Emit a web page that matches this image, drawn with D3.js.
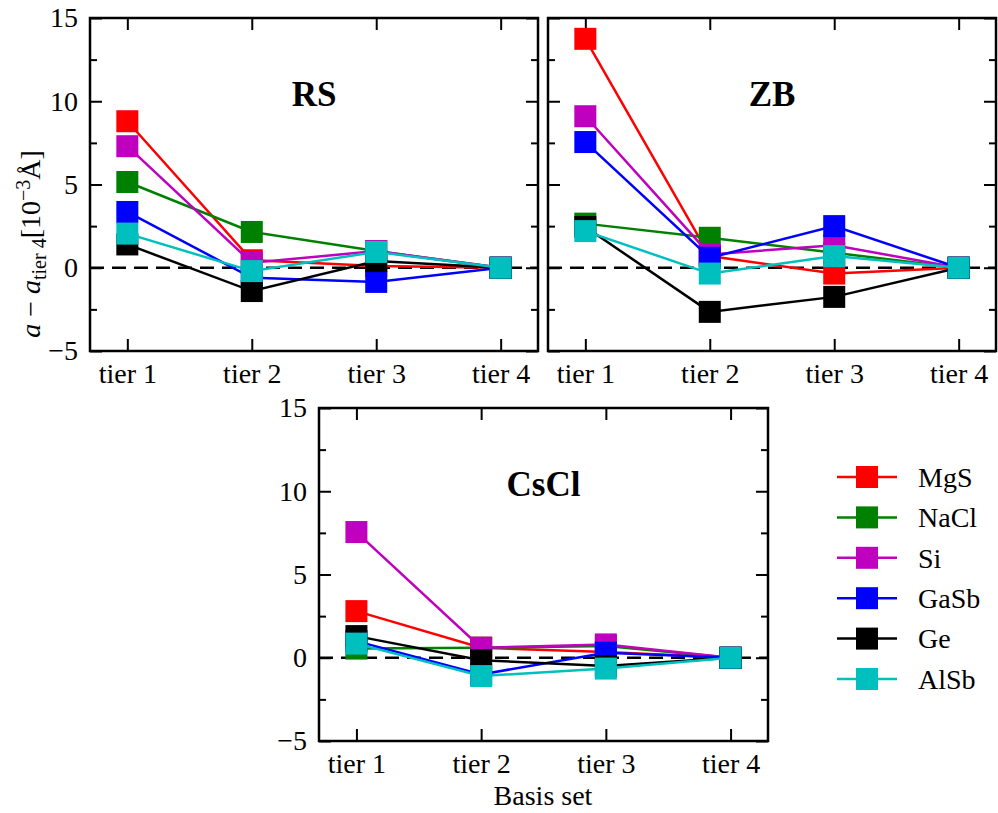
<!DOCTYPE html>
<html>
<head>
<meta charset="utf-8">
<script src="https://cdn.jsdelivr.net/npm/d3@7"></script>
</head>
<body style="margin:0">
<div id="chart"></div>
<script>
// data, one row per material, one column per tier
const tiers = ["tier 1", "tier 2", "tier 3", "tier 4"];
const materials = ["MgS", "NaCl", "Si", "GaSb", "Ge", "AlSb"];
const colors = ["#ff0000", "#008000", "#bf00bf", "#0000ff", "#000000", "#00bfbf"];
const yTicks = [-5, 0, 5, 10, 15];
const yMinorTicks = [-2.5, 2.5, 7.5, 12.5];

const rsValues = [
  [8.8, 0.45, 0.1, 0],
  [5.15, 2.15, 1.0, 0],
  [7.3, 0.3, 1.0, 0],
  [3.35, -0.6, -0.85, 0],
  [1.4, -1.4, 0.4, 0],
  [2.05, -0.2, 0.95, 0]
];
const zbValues = [
  [13.75, 0.7, -0.35, 0],
  [2.65, 1.8, 0.9, 0],
  [9.1, 0.8, 1.35, 0],
  [7.55, 0.6, 2.5, 0],
  [2.45, -2.65, -1.75, 0],
  [2.2, -0.35, 0.7, 0]
];
const csclValues = [
  [2.8, 0.6, 0.35, 0],
  [0.55, 0.6, 0.7, 0],
  [7.55, 0.6, 0.8, 0],
  [1.0, -1.0, 0.3, 0],
  [1.3, -0.15, -0.5, 0],
  [0.85, -1.1, -0.65, 0]
];

const fontName = "Liberation Serif";
const fontSize = 28;
const svg = d3.select("#chart").append("svg")
  .attr("width", 998)
  .attr("height", 813);

function drawPanel(box, title, values, showYLabels) {
  const x = d3.scaleLinear().domain([0.7, 4.3]).range([box.left, box.right]);
  const y = d3.scaleLinear().domain([-5, 15]).range([box.bottom, box.top]);
  const g = svg.append("g");

  // ticks, all pointing inward
  const left = g.append("g").attr("transform", "translate(" + box.left + ",0)")
    .call(d3.axisLeft(y).tickValues(yTicks).tickSize(-12).tickPadding(12).tickFormat(d3.format("d")));
  if (!showYLabels) left.selectAll("text").remove();
  g.append("g").attr("transform", "translate(" + box.left + ",0)")
    .call(d3.axisLeft(y).tickValues(yMinorTicks).tickSize(-7).tickFormat(""));
  g.append("g").attr("transform", "translate(" + box.right + ",0)")
    .call(d3.axisRight(y).tickValues(yTicks).tickSize(-12).tickFormat(""));
  g.append("g").attr("transform", "translate(" + box.right + ",0)")
    .call(d3.axisRight(y).tickValues(yMinorTicks).tickSize(-7).tickFormat(""));
  g.append("g").attr("transform", "translate(0," + box.top + ")")
    .call(d3.axisTop(x).tickValues([1, 2, 3, 4]).tickSize(-12).tickFormat(""));
  g.append("g").attr("transform", "translate(0," + box.bottom + ")")
    .call(d3.axisBottom(x).tickValues([1, 2, 3, 4]).tickSize(-12).tickPadding(12)
      .tickFormat((d) => tiers[d - 1]))
    .selectAll("text").attr("dy", "0.72em");
  g.selectAll(".domain").remove();
  g.selectAll(".tick line").attr("stroke", "#000").attr("stroke-width", 2);
  g.selectAll(".tick text")
    .attr("font-family", fontName)
    .attr("font-size", fontSize)
    .attr("fill", "#000");

  // zero reference
  g.append("line")
    .attr("x1", box.left).attr("x2", box.right)
    .attr("y1", y(0)).attr("y2", y(0))
    .attr("stroke", "#000").attr("stroke-width", 2.5)
    .attr("stroke-dasharray", "14,8");

  const line = d3.line().x((d, i) => x(i + 1)).y((d) => y(d));
  values.forEach((row, k) => {
    g.append("path")
      .datum(row)
      .attr("fill", "none")
      .attr("stroke", colors[k])
      .attr("stroke-width", 2.5)
      .attr("d", line);
    g.selectAll(null)
      .data(row)
      .enter()
      .append("rect")
      .attr("x", (d, i) => x(i + 1) - 11)
      .attr("y", (d) => y(d) - 11)
      .attr("width", 22)
      .attr("height", 22)
      .attr("fill", colors[k]);
  });

  g.append("rect")
    .attr("x", box.left).attr("y", box.top)
    .attr("width", box.right - box.left).attr("height", box.bottom - box.top)
    .attr("fill", "none").attr("stroke", "#000").attr("stroke-width", 2.5);

  g.append("text")
    .attr("x", (box.left + box.right) / 2)
    .attr("y", box.top + 88)
    .attr("text-anchor", "middle")
    .attr("font-family", fontName)
    .attr("font-size", 35)
    .attr("font-weight", "bold")
    .text(title);
}

drawPanel({ left: 90, right: 538, top: 18, bottom: 351 }, "RS", rsValues, true);
drawPanel({ left: 548, right: 996, top: 18, bottom: 351 }, "ZB", zbValues, false);
drawPanel({ left: 319, right: 768, top: 408, bottom: 741 }, "CsCl", csclValues, true);

// x axis label
svg.append("text")
  .attr("x", 543)
  .attr("y", 805)
  .attr("text-anchor", "middle")
  .attr("font-family", fontName)
  .attr("font-size", fontSize)
  .text("Basis set");

// y axis label
const ylab = svg.append("text")
  .attr("transform", "translate(40,244) rotate(-90)")
  .attr("text-anchor", "middle")
  .attr("font-family", fontName)
  .attr("font-size", fontSize);
ylab.append("tspan").attr("font-style", "italic").text("a");
ylab.append("tspan").text(" \u2212 ");
ylab.append("tspan").attr("font-style", "italic").text("a");
ylab.append("tspan").attr("dy", 6).attr("font-size", 20).text("tier 4");
ylab.append("tspan").attr("dy", -6).text("[10");
ylab.append("tspan").attr("dy", -10).attr("font-size", 20).text("\u22123");
ylab.append("tspan").attr("dy", 10).text("\u00c5]");

// legend
const legend = svg.append("g");
materials.forEach((m, i) => {
  const ly = 477 + i * 40.4;
  legend.append("line")
    .attr("x1", 837).attr("x2", 897)
    .attr("y1", ly).attr("y2", ly)
    .attr("stroke", colors[i]).attr("stroke-width", 2.5);
  legend.append("rect")
    .attr("x", 856).attr("y", ly - 11)
    .attr("width", 22).attr("height", 22)
    .attr("fill", colors[i]);
  legend.append("text")
    .attr("x", 918).attr("y", ly)
    .attr("dy", "0.35em")
    .attr("font-family", fontName)
    .attr("font-size", fontSize)
    .text(m);
});
</script>
</body>
</html>
